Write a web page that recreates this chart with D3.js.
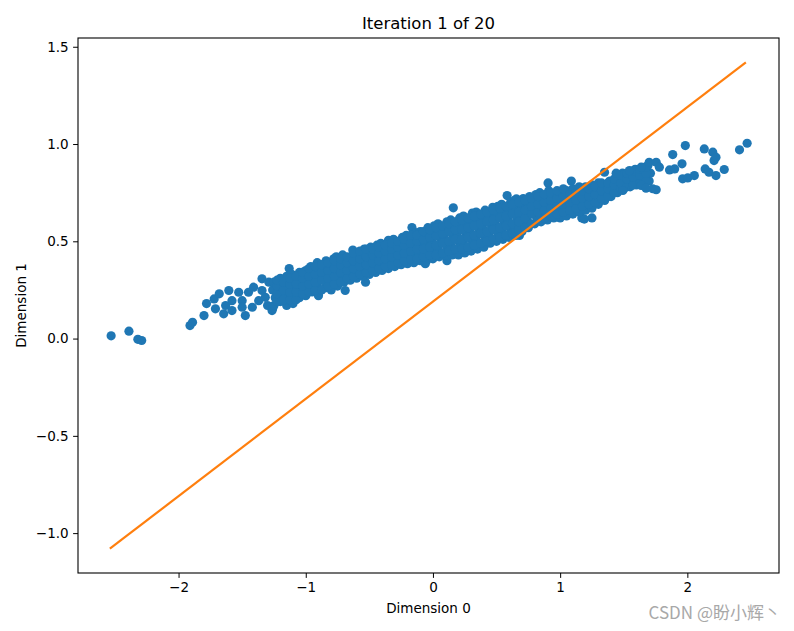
<!DOCTYPE html>
<html>
<head>
<meta charset="utf-8">
<script src="https://cdn.jsdelivr.net/npm/d3@7"></script>
<style>
  body { margin: 0; background: #fff; }
  svg text { font-family: "DejaVu Sans", sans-serif; fill: #000; }
</style>
</head>
<body>
<div id="chart"></div>
<script>
// sparse points at the left end and outliers
var sparsePoints = [
    [-2.53, 0.014], [-2.39, 0.038], [-2.32, -0.004], [-2.29, -0.01],
    [-1.91, 0.067], [-1.89, 0.084], [-1.80, 0.118], [-1.78, 0.18],
    [-1.72, 0.204], [-1.68, 0.23], [-1.71, 0.153], [-1.645, 0.127], [-1.63, 0.17],
    [-1.605, 0.247], [-1.58, 0.195], [-1.58, 0.144], [-1.527, 0.238], [-1.50, 0.195],
    [-1.475, 0.118], [-1.50, 0.161], [-1.45, 0.238], [-1.42, 0.161], [-1.41, 0.264],
    [-1.344, 0.307], [-1.344, 0.247], [-1.37, 0.195], [-1.318, 0.212], [-1.29, 0.29],
    [-1.265, 0.144], [-1.30, 0.17], [-1.26, 0.154], [-1.15, 0.17], [-1.13, 0.36],
    [-0.90, 0.22], [-0.69, 0.247], [-0.53, 0.29], [-0.165, 0.571], [-0.06, 0.385],
    [0.11, 0.40], [0.16, 0.672], [0.20, 0.43], [0.50, 0.504], [0.68, 0.53],
    [0.583, 0.735], [0.656, 0.718], [0.905, 0.80], [1.088, 0.81],
    [1.17, 0.62], [1.25, 0.62], [1.19, 0.614]
];

// right end of the cloud
var rightPoints = [
    [1.349, 0.855], [1.44, 0.85], [1.493, 0.761], [1.545, 0.864],
    [1.637, 0.881], [1.637, 0.787], [1.70, 0.906], [1.755, 0.906], [1.78, 0.881],
    [1.728, 0.77], [1.755, 0.765], [1.675, 0.773], [1.885, 0.946], [1.86, 0.867],
    [1.90, 0.872], [1.958, 0.898], [1.984, 0.992], [1.963, 0.821], [2.003, 0.826],
    [2.055, 0.838], [2.133, 0.975], [2.20, 0.958], [2.21, 0.915], [2.225, 0.932],
    [2.14, 0.872], [2.17, 0.855], [2.225, 0.838], [2.29, 0.869], [2.41, 0.97], [2.47, 1.004]
];

// dense band, read column by column
var bandPoints = [
    [-1.25, 0.17], [-1.24, 0.21], [-1.26, 0.25], [-1.25, 0.29],
    [-1.20, 0.19], [-1.21, 0.23], [-1.19, 0.27], [-1.20, 0.31],
    [-1.15, 0.20], [-1.16, 0.24], [-1.14, 0.28], [-1.15, 0.32],
    [-1.10, 0.18], [-1.11, 0.22], [-1.09, 0.26], [-1.10, 0.30], [-1.11, 0.33],
    [-1.05, 0.21], [-1.04, 0.25], [-1.06, 0.29], [-1.05, 0.34],
    [-1.00, 0.22], [-1.01, 0.26], [-0.99, 0.30], [-1.00, 0.35],
    [-0.95, 0.24], [-0.96, 0.27], [-0.94, 0.31], [-0.95, 0.34], [-0.96, 0.37],
    [-0.90, 0.23], [-0.91, 0.28], [-0.89, 0.32], [-0.90, 0.36], [-0.91, 0.39],
    [-0.85, 0.26], [-0.84, 0.29], [-0.86, 0.33], [-0.85, 0.37], [-0.84, 0.40],
    [-0.80, 0.25], [-0.81, 0.30], [-0.79, 0.34], [-0.80, 0.38], [-0.78, 0.41],
    [-0.75, 0.27], [-0.76, 0.31], [-0.74, 0.35], [-0.75, 0.39], [-0.76, 0.42],
    [-0.70, 0.29], [-0.71, 0.33], [-0.69, 0.36], [-0.70, 0.40], [-0.71, 0.43],
    [-0.65, 0.30], [-0.64, 0.34], [-0.66, 0.38], [-0.65, 0.41], [-0.63, 0.455],
    [-0.60, 0.31], [-0.61, 0.35], [-0.59, 0.39], [-0.60, 0.43], [-0.61, 0.44],
    [-0.55, 0.32], [-0.54, 0.36], [-0.56, 0.40], [-0.55, 0.43], [-0.54, 0.46],
    [-0.50, 0.33], [-0.51, 0.37], [-0.49, 0.41], [-0.50, 0.44], [-0.49, 0.47],
    [-0.45, 0.34], [-0.44, 0.38], [-0.46, 0.42], [-0.45, 0.45], [-0.44, 0.48],
    [-0.40, 0.35], [-0.41, 0.39], [-0.39, 0.43], [-0.40, 0.46], [-0.41, 0.49],
    [-0.35, 0.36], [-0.34, 0.40], [-0.36, 0.44], [-0.35, 0.47], [-0.35, 0.505],
    [-0.30, 0.37], [-0.31, 0.41], [-0.29, 0.45], [-0.30, 0.48], [-0.31, 0.51],
    [-0.25, 0.38], [-0.24, 0.42], [-0.26, 0.46], [-0.25, 0.49], [-0.24, 0.52],
    [-0.20, 0.385], [-0.21, 0.43], [-0.19, 0.47], [-0.20, 0.50], [-0.21, 0.53],
    [-0.15, 0.39], [-0.14, 0.43], [-0.16, 0.47], [-0.15, 0.51], [-0.14, 0.545],
    [-0.10, 0.40], [-0.11, 0.44], [-0.09, 0.48], [-0.10, 0.52], [-0.10, 0.55],
    [-0.05, 0.40], [-0.04, 0.45], [-0.06, 0.49], [-0.05, 0.53], [-0.04, 0.57],
    [0.00, 0.41], [0.01, 0.45], [-0.01, 0.50], [0.00, 0.54], [0.01, 0.58],
    [0.05, 0.42], [0.04, 0.46], [0.06, 0.51], [0.05, 0.55], [0.04, 0.59],
    [0.10, 0.43], [0.11, 0.47], [0.09, 0.52], [0.10, 0.56], [0.11, 0.60],
    [0.15, 0.43], [0.14, 0.48], [0.16, 0.53], [0.15, 0.57], [0.14, 0.61],
    [0.20, 0.44], [0.21, 0.49], [0.19, 0.54], [0.20, 0.58], [0.21, 0.62],
    [0.25, 0.44], [0.24, 0.49], [0.26, 0.54], [0.25, 0.59], [0.24, 0.63],
    [0.30, 0.45], [0.31, 0.50], [0.29, 0.55], [0.30, 0.60], [0.31, 0.645],
    [0.35, 0.46], [0.34, 0.51], [0.36, 0.56], [0.35, 0.61], [0.34, 0.65],
    [0.40, 0.47], [0.41, 0.52], [0.39, 0.57], [0.40, 0.62], [0.41, 0.66],
    [0.45, 0.49], [0.44, 0.53], [0.46, 0.58], [0.45, 0.63], [0.47, 0.675],
    [0.50, 0.50], [0.51, 0.54], [0.49, 0.59], [0.50, 0.64], [0.51, 0.68],
    [0.55, 0.51], [0.54, 0.55], [0.56, 0.60], [0.55, 0.65], [0.54, 0.69],
    [0.60, 0.52], [0.61, 0.56], [0.59, 0.61], [0.60, 0.66], [0.61, 0.70],
    [0.65, 0.53], [0.64, 0.57], [0.66, 0.62], [0.65, 0.67], [0.64, 0.71],
    [0.70, 0.55], [0.71, 0.59], [0.69, 0.63], [0.70, 0.68], [0.71, 0.72],
    [0.75, 0.57], [0.74, 0.61], [0.76, 0.65], [0.75, 0.69], [0.76, 0.73],
    [0.80, 0.59], [0.81, 0.63], [0.79, 0.67], [0.80, 0.71], [0.81, 0.74],
    [0.85, 0.60], [0.84, 0.64], [0.86, 0.68], [0.85, 0.72], [0.84, 0.75],
    [0.90, 0.61], [0.91, 0.65], [0.89, 0.69], [0.90, 0.73], [0.91, 0.76],
    [0.95, 0.62], [0.94, 0.66], [0.96, 0.70], [0.95, 0.74],
    [1.00, 0.62], [1.01, 0.67], [0.99, 0.71], [1.00, 0.75],
    [1.05, 0.63], [1.04, 0.68], [1.06, 0.72], [1.05, 0.76],
    [1.10, 0.64], [1.11, 0.69], [1.09, 0.73], [1.10, 0.77],
    [1.15, 0.65], [1.14, 0.70], [1.16, 0.74], [1.15, 0.78],
    [1.20, 0.66], [1.21, 0.71], [1.19, 0.75], [1.20, 0.78],
    [1.25, 0.67], [1.24, 0.72], [1.26, 0.76], [1.25, 0.79],
    [1.30, 0.69], [1.31, 0.73], [1.29, 0.77], [1.30, 0.80],
    [1.35, 0.71], [1.34, 0.75], [1.36, 0.79],
    [1.40, 0.73], [1.41, 0.77], [1.39, 0.81],
    [1.45, 0.75], [1.44, 0.79], [1.46, 0.83],
    [1.50, 0.77], [1.51, 0.81], [1.49, 0.85],
    [1.55, 0.78], [1.54, 0.82], [1.56, 0.86],
    [1.60, 0.79], [1.61, 0.83], [1.59, 0.87],
    [1.65, 0.80], [1.64, 0.84], [1.66, 0.88],
    [1.70, 0.81], [1.71, 0.85], [1.69, 0.89]
];

// in-between columns of the band
var bandPoints2 = [
    [-1.225, 0.19], [-1.225, 0.23], [-1.225, 0.27], [-1.225, 0.30],
    [-1.175, 0.20], [-1.175, 0.25], [-1.175, 0.29],
    [-1.125, 0.20], [-1.125, 0.24], [-1.125, 0.28], [-1.125, 0.31],
    [-1.075, 0.20], [-1.075, 0.24], [-1.075, 0.28], [-1.075, 0.32],
    [-1.025, 0.23], [-1.025, 0.27], [-1.025, 0.31], [-1.025, 0.34],
    [-0.975, 0.24], [-0.975, 0.28], [-0.975, 0.32], [-0.975, 0.36],
    [-0.925, 0.25], [-0.925, 0.29], [-0.925, 0.33], [-0.925, 0.37],
    [-0.875, 0.25], [-0.875, 0.30], [-0.875, 0.34], [-0.875, 0.38],
    [-0.825, 0.27], [-0.825, 0.31], [-0.825, 0.35], [-0.825, 0.39],
    [-0.775, 0.28], [-0.775, 0.32], [-0.775, 0.36], [-0.775, 0.40],
    [-0.725, 0.29], [-0.725, 0.34], [-0.725, 0.38], [-0.725, 0.41],
    [-0.675, 0.31], [-0.675, 0.35], [-0.675, 0.39], [-0.675, 0.42],
    [-0.625, 0.32], [-0.625, 0.36], [-0.625, 0.40], [-0.625, 0.44],
    [-0.575, 0.33], [-0.575, 0.37], [-0.575, 0.41], [-0.575, 0.45],
    [-0.525, 0.34], [-0.525, 0.38], [-0.525, 0.42], [-0.525, 0.46],
    [-0.475, 0.35], [-0.475, 0.39], [-0.475, 0.43], [-0.475, 0.46],
    [-0.425, 0.36], [-0.425, 0.40], [-0.425, 0.44], [-0.425, 0.47],
    [-0.375, 0.37], [-0.375, 0.41], [-0.375, 0.45], [-0.375, 0.48],
    [-0.325, 0.38], [-0.325, 0.42], [-0.325, 0.46], [-0.325, 0.49],
    [-0.275, 0.39], [-0.275, 0.43], [-0.275, 0.47], [-0.275, 0.50],
    [-0.225, 0.40], [-0.225, 0.44], [-0.225, 0.48], [-0.225, 0.51],
    [-0.175, 0.41], [-0.175, 0.45], [-0.175, 0.49], [-0.175, 0.53],
    [-0.125, 0.41], [-0.125, 0.46], [-0.125, 0.50], [-0.125, 0.53],
    [-0.075, 0.42], [-0.075, 0.46], [-0.075, 0.51], [-0.075, 0.55],
    [-0.025, 0.43], [-0.025, 0.47], [-0.025, 0.52], [-0.025, 0.56],
    [0.025, 0.43], [0.025, 0.48], [0.025, 0.53], [0.025, 0.57],
    [0.075, 0.44], [0.075, 0.49], [0.075, 0.54], [0.075, 0.58],
    [0.125, 0.45], [0.125, 0.50], [0.125, 0.55], [0.125, 0.59],
    [0.175, 0.46], [0.175, 0.51], [0.175, 0.56], [0.175, 0.60],
    [0.225, 0.46], [0.225, 0.51], [0.225, 0.56], [0.225, 0.61],
    [0.275, 0.47], [0.275, 0.52], [0.275, 0.57], [0.275, 0.62],
    [0.325, 0.48], [0.325, 0.53], [0.325, 0.58], [0.325, 0.63],
    [0.375, 0.49], [0.375, 0.54], [0.375, 0.59], [0.375, 0.64],
    [0.425, 0.50], [0.425, 0.55], [0.425, 0.60], [0.425, 0.65],
    [0.475, 0.51], [0.475, 0.56], [0.475, 0.61], [0.475, 0.66],
    [0.525, 0.52], [0.525, 0.57], [0.525, 0.62], [0.525, 0.67],
    [0.575, 0.53], [0.575, 0.58], [0.575, 0.63], [0.575, 0.68],
    [0.625, 0.54], [0.625, 0.59], [0.625, 0.64], [0.625, 0.69],
    [0.675, 0.56], [0.675, 0.60], [0.675, 0.65], [0.675, 0.70],
    [0.725, 0.57], [0.725, 0.62], [0.725, 0.66], [0.725, 0.71],
    [0.775, 0.59], [0.775, 0.64], [0.775, 0.68], [0.775, 0.72],
    [0.825, 0.61], [0.825, 0.65], [0.825, 0.69], [0.825, 0.73],
    [0.875, 0.62], [0.875, 0.66], [0.875, 0.70], [0.875, 0.74],
    [0.925, 0.63], [0.925, 0.67], [0.925, 0.71], [0.925, 0.75],
    [0.975, 0.64], [0.975, 0.68], [0.975, 0.72], [0.975, 0.76],
    [1.025, 0.65], [1.025, 0.69], [1.025, 0.73], [1.025, 0.77],
    [1.075, 0.66], [1.075, 0.70], [1.075, 0.74],
    [1.125, 0.67], [1.125, 0.71], [1.125, 0.75],
    [1.175, 0.68], [1.175, 0.72], [1.175, 0.76],
    [1.225, 0.69], [1.225, 0.73], [1.225, 0.77],
    [1.275, 0.70], [1.275, 0.74], [1.275, 0.78],
    [1.325, 0.72], [1.325, 0.76], [1.325, 0.80],
    [1.375, 0.73], [1.375, 0.77], [1.375, 0.80],
    [1.425, 0.75], [1.425, 0.79], [1.425, 0.82],
    [1.475, 0.77], [1.475, 0.80], [1.475, 0.84],
    [1.525, 0.78], [1.525, 0.82], [1.525, 0.85],
    [1.575, 0.79], [1.575, 0.83], [1.575, 0.86],
    [1.625, 0.80], [1.625, 0.84], [1.625, 0.87],
    [1.675, 0.81], [1.675, 0.85], [1.675, 0.88]
];

// fitted line
var lineX = [-2.54, 2.46];
var lineY = [-1.08, 1.42];

var xTicks = [-2, -1, 0, 1, 2];
var yTicks = [-1.0, -0.5, 0.0, 0.5, 1.0, 1.5];

var chartTitle = "Iteration 1 of 20";
var xLabel = "Dimension 0";
var yLabel = "Dimension 1";
var watermark = "CSDN @盼小辉丶";

var W = 794, H = 631;
var margin = {top: 38, right: 15, bottom: 58, left: 78};
var width = W - margin.left - margin.right,
    height = H - margin.top - margin.bottom;

var points = sparsePoints.concat(bandPoints, bandPoints2, rightPoints);
var lineData = lineX.map(function (d, i) { return [d, lineY[i]]; });

// matplotlib style 5% padding around all data
var allX = points.map(function (d) { return d[0]; }).concat(lineX);
var allY = points.map(function (d) { return d[1]; }).concat(lineY);
var xe = d3.extent(allX), ye = d3.extent(allY);
var xp = (xe[1] - xe[0]) * 0.05, yp = (ye[1] - ye[0]) * 0.05;

var x = d3.scaleLinear().domain([xe[0] - xp, xe[1] + xp]).range([0, width]);
var y = d3.scaleLinear().domain([ye[0] - yp, ye[1] + yp]).range([height, 0]);

var minus = function (s) { return s.replace("-", "\u2212"); };

var svg = d3.select("#chart").append("svg")
    .attr("width", W)
    .attr("height", H);

var g = svg.append("g")
    .attr("transform", "translate(" + margin.left + "," + margin.top + ")");

svg.append("defs").append("clipPath")
    .attr("id", "clip")
    .append("rect")
    .attr("width", width)
    .attr("height", height);

var plot = g.append("g").attr("clip-path", "url(#clip)");

plot.selectAll("circle")
    .data(points)
    .enter().append("circle")
    .attr("cx", function (d) { return x(d[0]); })
    .attr("cy", function (d) { return y(d[1]); })
    .attr("r", 4.6)
    .attr("fill", "#1f77b4");

plot.append("path")
    .datum(lineData)
    .attr("fill", "none")
    .attr("stroke", "#ff7f0e")
    .attr("stroke-width", 2.2)
    .attr("d", d3.line()
        .x(function (d) { return x(d[0]); })
        .y(function (d) { return y(d[1]); }));

var xAxis = d3.axisBottom(x).tickValues(xTicks).tickSizeOuter(0).tickSize(4.9).tickPadding(4.5)
    .tickFormat(function (d) { return minus(d3.format("d")(d)); });
var yAxis = d3.axisLeft(y).tickValues(yTicks).tickSizeOuter(0).tickSize(4.9).tickPadding(4.5)
    .tickFormat(function (d) { return minus(d3.format(".1f")(d)); });

var gx = g.append("g")
    .attr("transform", "translate(0," + height + ")")
    .call(xAxis);
var gy = g.append("g").call(yAxis);

[gx, gy].forEach(function (ax) {
    ax.select(".domain").remove();
    ax.selectAll("line").attr("stroke", "#000").attr("stroke-width", 1);
    ax.selectAll("text")
        .style("font-family", "'DejaVu Sans', sans-serif")
        .style("font-size", "13.5px")
        .attr("fill", "#000");
});

// frame
g.append("rect")
    .attr("width", width)
    .attr("height", height)
    .attr("fill", "none")
    .attr("stroke", "#000")
    .attr("stroke-width", 1.1);

svg.append("text")
    .attr("x", margin.left + width / 2)
    .attr("y", 29)
    .attr("text-anchor", "middle")
    .style("font-size", "16.5px")
    .text(chartTitle);

svg.append("text")
    .attr("x", margin.left + width / 2)
    .attr("y", 613)
    .attr("text-anchor", "middle")
    .style("font-size", "13.5px")
    .text(xLabel);

svg.append("text")
    .attr("transform", "translate(26," + (margin.top + height / 2) + ") rotate(-90)")
    .attr("text-anchor", "middle")
    .style("font-size", "13.5px")
    .text(yLabel);

svg.append("text")
    .attr("x", 781)
    .attr("y", 619)
    .attr("text-anchor", "end")
    .style("font-family", "'Noto Sans CJK SC', sans-serif")
    .style("font-size", "17px")
    .style("fill", "#a8a8a8")
    .text(watermark);
</script>
</body>
</html>
